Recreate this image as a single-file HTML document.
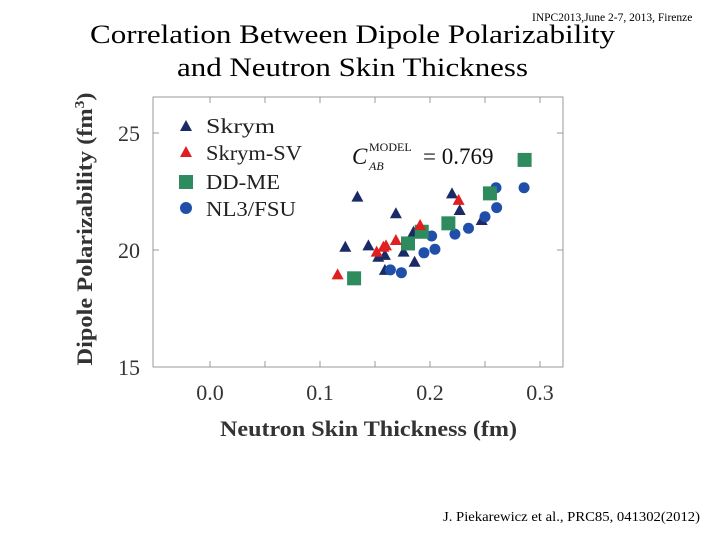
<!DOCTYPE html>
<html><head><meta charset="utf-8"><style>
body{margin:0;background:#fff;}
svg{display:block;}
</style></head><body>
<svg width="720" height="540" xmlns="http://www.w3.org/2000/svg">
<text x="532" y="21" font-family="Liberation Serif, serif" font-size="11.5" fill="#000">INPC2013,June 2-7, 2013, Firenze</text>
<text x="90" y="43" textLength="525" lengthAdjust="spacingAndGlyphs" font-family="Liberation Serif, serif" font-size="26" fill="#000">Correlation  Between Dipole Polarizability</text>
<text x="177" y="76" textLength="351" lengthAdjust="spacingAndGlyphs" font-family="Liberation Serif, serif" font-size="26" fill="#000">and Neutron Skin Thickness</text>
<rect x="153" y="97" width="410" height="270" fill="none" stroke="#999" stroke-width="1"/>
<g id="ticks"></g>
<g id="marks"></g>
<g font-family="Liberation Serif, serif" font-size="21" fill="#222">
<polygon points="186,120 192,131 180,131" fill="#1a2a66"/>
<text x="206" y="133" textLength="69" lengthAdjust="spacingAndGlyphs">Skrym</text>
<polygon points="186,146 192,157 180,157" fill="#e02020"/>
<text x="206" y="160" textLength="96" lengthAdjust="spacingAndGlyphs">Skrym-SV</text>
<rect x="179" y="175" width="14" height="14" fill="#2e8b5e"/>
<text x="206" y="189" textLength="74" lengthAdjust="spacingAndGlyphs">DD-ME</text>
<circle cx="186" cy="208" r="6" fill="#1f4fa8"/>
<text x="206" y="216" textLength="90" lengthAdjust="spacingAndGlyphs">NL3/FSU</text>
</g>
<g font-family="Liberation Serif, serif" fill="#111">
<text x="352" y="164" font-size="23" font-style="italic">C</text>
<text x="369" y="151" font-size="12">MODEL</text>
<text x="369" y="170" font-size="12" font-style="italic">AB</text>
<text x="423" y="164" font-size="23">= 0.769</text>
</g>
<text transform="translate(92,229) rotate(-90)" text-anchor="middle" textLength="273" lengthAdjust="spacingAndGlyphs" font-family="Liberation Serif, serif" font-size="22" font-weight="bold" fill="#333">Dipole Polarizability (fm<tspan font-size="14" dy="-8">3</tspan><tspan dy="8">)</tspan></text>
<text x="220" y="436" textLength="297" lengthAdjust="spacingAndGlyphs" font-family="Liberation Serif, serif" font-size="22" font-weight="bold" fill="#333">Neutron Skin Thickness (fm)</text>
<text x="443" y="521" textLength="257" lengthAdjust="spacingAndGlyphs" font-family="Liberation Serif, serif" font-size="14" fill="#000">J. Piekarewicz et al., PRC85, 041302(2012)</text>
</svg>
<script>
const xTicks=[0.0,0.1,0.2,0.3];
const xTickLabels=["0.0","0.1","0.2","0.3"];
const yTicks=[15,20,25];
const yTickLabels=["15","20","25"];
const skrymX=[0.123,0.134,0.144,0.169,0.153,0.159,0.159,0.176,0.186,0.185,0.220,0.227,0.247];
const skrymY=[20.14,22.28,20.2,21.57,19.71,19.79,19.15,19.93,19.5,20.78,22.42,21.71,21.28];
const svX=[0.116,0.1515,0.1576,0.160,0.169,0.191,0.226];
const svY=[18.96,19.93,20.14,20.2,20.43,21.07,22.14];
const ddX=[0.131,0.180,0.1925,0.2167,0.2545,0.286];
const ddY=[18.79,20.28,20.78,21.14,22.42,23.85];
const nlX=[0.164,0.174,0.1945,0.2045,0.2015,0.2227,0.235,0.250,0.2606,0.260,0.2855];
const nlY=[19.15,19.03,19.88,20.03,20.6,20.68,20.93,21.42,21.81,22.66,22.66];
const NS='http://www.w3.org/2000/svg';
function xs(v){return 210+v*1100;}
function ys(v){return 250-(v-20)*23.4;}
function mk(tag,attrs,parent){const e=document.createElementNS(NS,tag);for(const k in attrs)e.setAttribute(k,attrs[k]);parent.appendChild(e);return e;}
const tg=document.getElementById('ticks');
for(let v=0;v<=0.3001;v+=0.05){const x=xs(v);
 let t=mk('line',{x1:x,x2:x,y1:367,y2:361,stroke:'#999'},tg);
 
 
 let t2=mk('line',{x1:x,x2:x,y1:97,y2:103,stroke:'#999'},tg);
 
 }
xTicks.forEach((v,i)=>{const l=mk('text',{x:xs(v),y:400,'text-anchor':'middle','font-family':'Liberation Serif, serif','font-size':22,fill:'#333'},tg);l.textContent=xTickLabels[i];
 
 });
yTicks.forEach((v,i)=>{const y=ys(v);
 if(v>15){let a=mk('line',{x1:153,x2:159,y1:y,y2:y,stroke:'#999'},tg);
 
 
 let b=mk('line',{x1:557,x2:563,y1:y,y2:y,stroke:'#999'},tg);
 
 }
 const l=mk('text',{x:140,y:y+8,'text-anchor':'end','font-family':'Liberation Serif, serif','font-size':22,fill:'#333'},tg);l.textContent=yTickLabels[i];
 
 });
const mg=document.getElementById('marks');
function tri(x,y,c,name){const p=mk('polygon',{points:`${x},${y-6} ${x+6},${y+5} ${x-6},${y+5}`,fill:c},mg);
 
 }
skrymX.forEach((v,i)=>tri(xs(v),ys(skrymY[i]),'#1a2a66','skrym-point'));
nlX.forEach((v,i)=>{const c=mk('circle',{cx:xs(v),cy:ys(nlY[i]),r:5.5,fill:'#1f4fa8'},mg);
 
 });
ddX.forEach((v,i)=>{const r=mk('rect',{x:xs(v)-7,y:ys(ddY[i])-7,width:14,height:14,fill:'#2e8b5e'},mg);
 
 });
svX.forEach((v,i)=>tri(xs(v),ys(svY[i]),'#e02020','skrym-sv-point'));
</script>
</body></html>
